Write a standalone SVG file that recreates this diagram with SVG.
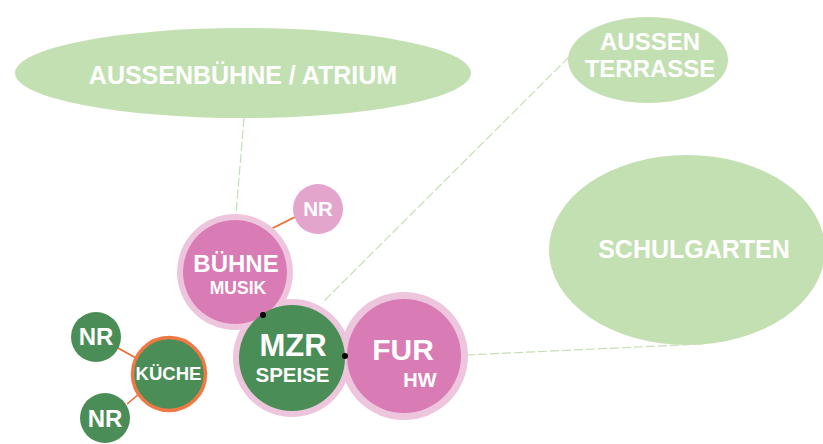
<svg xmlns="http://www.w3.org/2000/svg" width="823" height="444" viewBox="0 0 823 444">
  <style>
    .area { fill: #c3e0b2; }
    .halo { fill: #edc6de; }
    .room-pink { fill: #d97bb4; }
    .room-green { fill: #4b8d56; }
    .nr-pink { fill: #e3a5cc; }
    .kitchen { fill: #4b8d56; stroke: #ef7944; stroke-width: 3.5; }
    .link-area { stroke: #c3e0b2; stroke-width: 1.2; stroke-dasharray: 9 3; fill: none; }
    .link-nr { stroke: #ee6a2e; stroke-width: 1.6; fill: none; }
    .joint { fill: #000; }
    text { font-family: "Liberation Sans", Arial, sans-serif; font-weight: bold; fill: #fff; text-anchor: middle; }
  </style>

  <rect width="823" height="444" fill="#fff"/>

  <!-- connectors -->
  <g id="connectors">
    <line class="link-area" x1="244" y1="118" x2="236" y2="214"/>
    <line class="link-area" x1="569" y1="57" x2="322" y2="303"/>
    <line class="link-area" x1="466" y1="355" x2="702" y2="344"/>
    <line class="link-nr" x1="295" y1="217" x2="267" y2="231"/>
    <line class="link-nr" x1="118" y1="348" x2="136" y2="358"/>
    <line class="link-nr" x1="127" y1="404" x2="139" y2="394"/>
  </g>

  <!-- outdoor areas -->
  <g id="aussenbuehne">
    <ellipse class="area" cx="243" cy="73" rx="228" ry="45"/>
    <text x="243" y="84" font-size="25">AUSSENBÜHNE / ATRIUM</text>
  </g>
  <g id="aussenterrasse">
    <ellipse class="area" cx="648" cy="60" rx="80" ry="43"/>
    <text x="650" y="50" font-size="24">AUSSEN</text>
    <text x="650" y="77" font-size="24">TERRASSE</text>
  </g>
  <g id="schulgarten">
    <ellipse class="area" cx="687" cy="250" rx="138" ry="95"/>
    <text x="694" y="258" font-size="25">SCHULGARTEN</text>
  </g>

  <!-- pale halos behind the main rooms -->
  <g id="halos">
    <circle class="halo" cx="235" cy="272" r="58"/>
    <circle class="halo" cx="292" cy="358" r="59"/>
    <circle class="halo" cx="404" cy="356" r="64"/>
  </g>

  <g id="buehne">
    <circle class="room-pink" cx="235" cy="272" r="52"/>
    <text x="236" y="272" font-size="24">BÜHNE</text>
    <text x="238" y="294" font-size="17.5">MUSIK</text>
  </g>
  <g id="nr-buehne">
    <circle class="nr-pink" cx="318" cy="209" r="25"/>
    <text x="318" y="216" font-size="20.5">NR</text>
  </g>
  <g id="mzr">
    <circle class="room-green" cx="292" cy="358" r="53"/>
    <text x="293" y="356" font-size="31">MZR</text>
    <text x="292.5" y="382" font-size="20.5">SPEISE</text>
  </g>
  <g id="fur">
    <circle class="room-pink" cx="404" cy="356" r="57"/>
    <text x="403" y="360" font-size="30">FUR</text>
    <text x="420" y="387" font-size="20">HW</text>
  </g>
  <g id="kueche">
    <circle class="kitchen" cx="169" cy="374" r="36.5"/>
    <text x="168.5" y="380" font-size="18.5">KÜCHE</text>
  </g>
  <g id="nr-kueche-1">
    <circle class="room-green" cx="96" cy="337" r="25"/>
    <text x="96" y="345" font-size="24">NR</text>
  </g>
  <g id="nr-kueche-2">
    <circle class="room-green" cx="105" cy="418" r="25"/>
    <text x="105" y="427" font-size="24">NR</text>
  </g>

  <!-- contact points between rooms -->
  <g id="joints">
    <circle class="joint" cx="263" cy="315" r="3"/>
    <circle class="joint" cx="345" cy="356" r="3"/>
  </g>
</svg>
